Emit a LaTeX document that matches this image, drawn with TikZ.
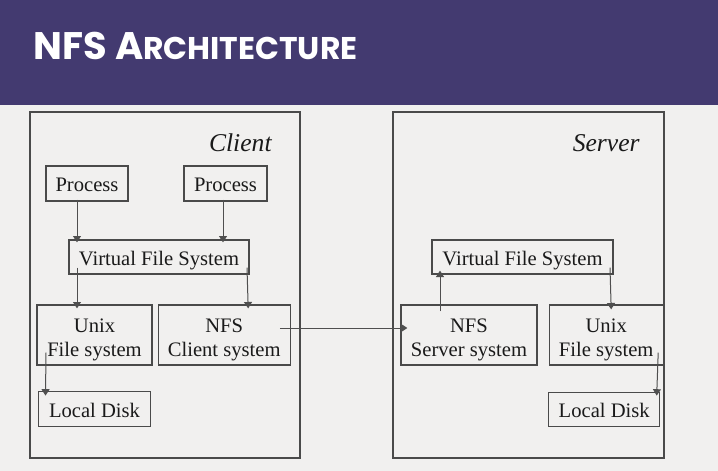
\documentclass[tikz,border=0pt]{standalone}
\usepackage{fontspec}
\setmainfont{Liberation Serif}
\newfontfamily\headfont{Poppins}
\usetikzlibrary{positioning,calc,arrows.meta}
\definecolor{headbg}{HTML}{433A70}
\definecolor{pagebg}{HTML}{F1F0EF}
\definecolor{boxline}{HTML}{4A4A4A}
\definecolor{arrline}{HTML}{4F4F4F}
\definecolor{inktext}{HTML}{1A1A1A}
\newcommand{\toppad}{\rule{0pt}{11.5pt}}

\begin{document}
\begin{tikzpicture}[x=0.5pt,y=-0.5pt,
  box/.style={draw=boxline,line width=0.6pt,inner sep=0pt,text=inktext,
    align=center,font=\fontsize{10.3}{12.2}\selectfont},
  oneline/.style={text height=8.4pt,text depth=0pt},
  frame/.style={draw=boxline,line width=0.7pt},
  arr/.style={draw=arrline,line width=0.5pt,-{Triangle[length=3.2pt,width=4pt]}}]
  % page and header band
  \fill[pagebg] (0,0) rectangle (718,471);
  \fill[headbg] (0,0) rectangle (718,105);
  \useasboundingbox (0,0) rectangle (718,471);
  \node[anchor=base west,text=white,inner sep=0pt] (title) at (33,59)
    {\headfont\bfseries\fontsize{19.2}{23}\selectfont NFS A\fontsize{15.7}{19}\selectfont RCHITECTURE};

  % client and server frames
  \draw[frame] (30,112) rectangle (300,458);
  \draw[frame] (393,112) rectangle (664,458);
  \node[anchor=base east,inner sep=0pt,text=inktext,font=\fontsize{12.8}{15}\selectfont\itshape] (client) at (272,151) {Client};
  \node[anchor=base east,inner sep=0pt,text=inktext,font=\fontsize{12.8}{15}\selectfont\itshape] (server) at (640,151) {Server};

\begin{scope}[every node/.style={box}]
  % client side
  \node[oneline,minimum width=41pt,minimum height=17.5pt] (proc1) at (87,183.5) {Process};
  \node[oneline,minimum width=41.5pt,minimum height=17.5pt] (proc2) at (225.5,183.5) {Process};
  \node[oneline,text height=8pt,minimum width=90pt,minimum height=17pt] (cvfs) at (159,257) {Virtual File System};
  \node[minimum width=57.5pt,minimum height=30pt] (cunix) at (94.5,335) {\toppad Unix\\File system};
  \node[minimum width=66pt,minimum height=30pt,right=2.5pt of cunix] (cnfs) {\toppad NFS\\Client system};
  \node[oneline,minimum width=56pt,minimum height=17.5pt,below=12.5pt of cunix] (cdisk) {Local Disk};
  % server side
  \node[oneline,text height=8pt,minimum width=90.5pt,minimum height=17pt] (svfs) at (522.5,257) {Virtual File System};
  \node[minimum width=68pt,minimum height=30pt] (snfs) at (469,335) {\toppad NFS\\Server system};
  \node[minimum width=57pt,minimum height=30pt,right=5.5pt of snfs] (sunix) {\toppad Unix\\File system};
  \node[oneline,minimum width=55.5pt,minimum height=17pt,below=13pt of sunix,xshift=-1pt] (sdisk) {Local Disk};
\end{scope}

  % client arrows
  \draw[arr] ($(proc1.south)+(-10,-2)$) -- ($(cvfs.north)+(-82,3)$);
  \draw[arr] ($(proc2.south)+(-2.5,-2)$) -- ($(cvfs.north)+(64,3)$);
  \draw[arr] ($(cvfs.south)+(-82,-7)$) -- ($(cunix.north)+(-17.5,4)$);
  \draw[arr] ($(cvfs.south)+(88,-7)$) -- ($(cnfs.north)+(24,4)$);
  \draw[arr] ($(cunix.south)+(-48.5,-13)$) -- ($(cdisk.north)+(-49,5)$);
  % client to server
  \draw[arr] ($(cnfs.east)+(-11,-7)$) -- ($(snfs.west)+(7,-7)$);
  % server arrows
  \draw[arr] ($(snfs.north)+(-29,7)$) -- ($(svfs.south)+(-82.5,-4)$);
  \draw[arr] ($(svfs.south)+(87.5,-7)$) -- ($(sunix.north)+(5,5)$);
  \draw[arr] ($(sunix.south)+(52,-13)$) -- ($(sdisk.north)+(52.5,4)$);
\end{tikzpicture}
\end{document}
